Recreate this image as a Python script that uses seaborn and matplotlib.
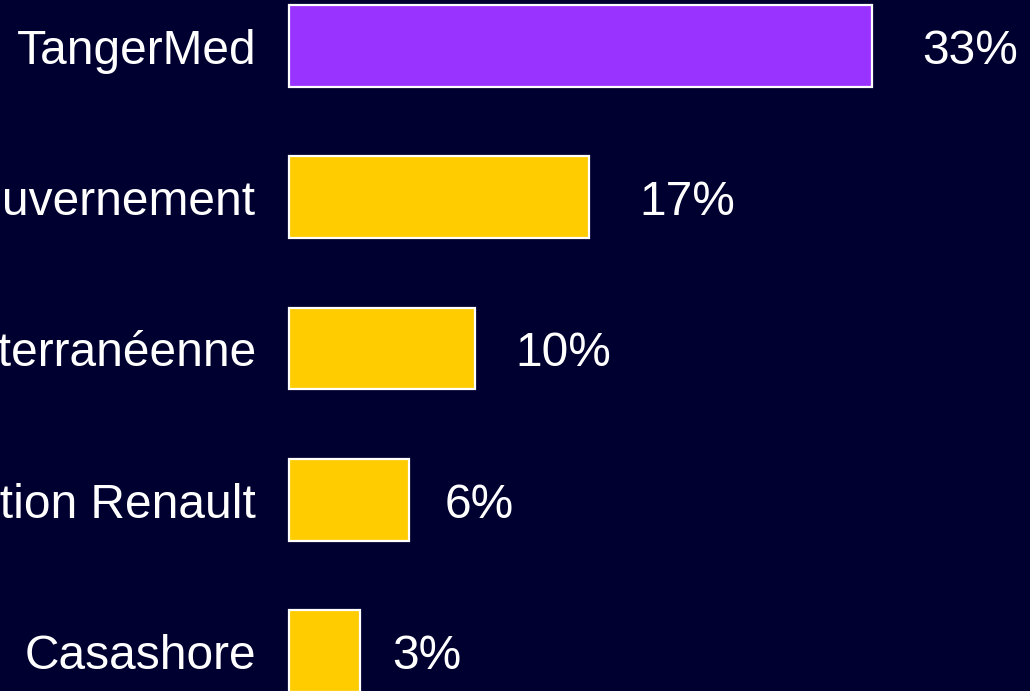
import matplotlib
matplotlib.use("Agg")
import matplotlib.pyplot as plt
import seaborn as sns
import pandas as pd

# Data
categories = ["TangerMed", "Gouvernement", "Méditerranéenne", "Fondation Renault", "Casashore"]
values = [33.0, 17.0, 10.5, 6.8, 4.0]          # bar lengths as drawn
label_values = [33, 17, 10, 6, 3]               # percentages as labelled
colors = ["#9933FF", "#FFCC00", "#FFCC00", "#FFCC00", "#FFCC00"]

BG = "#000030"

sns.set_theme(style="white")
plt.rcParams["font.family"] = ["Liberation Sans", "DejaVu Sans"]

fig = plt.figure(figsize=(10.30, 6.91), dpi=100)
fig.patch.set_facecolor(BG)
ax = fig.add_axes([0, 0, 1, 1])
ax.set_facecolor(BG)

df = pd.DataFrame({"cat": categories, "val": values})
sns.barplot(data=df, x="val", y="cat", hue="cat", palette=colors, legend=False,
            orient="h", width=0.54, edgecolor="white", linewidth=1.6,
            saturation=1, ax=ax)

px_per_unit = 17.67
zero_px = 289
ax.set_xlim(-zero_px / px_per_unit, (1030 - zero_px) / px_per_unit)
ax.set_ylim((691 - 46) / 151.25, -46 / 151.25)

dy = 0.035
for i, (cat, lv) in enumerate(zip(categories, label_values)):
    ax.text(-33 / px_per_unit, i + dy, cat, ha="right", va="center", color="white",
            fontsize=34.5, clip_on=False)
    ax.text(lv + 50 / px_per_unit, i + dy, f"{lv}%", ha="left", va="center",
            color="white", fontsize=34.5, clip_on=False)

ax.set_axis_off()
fig.savefig("out.png", dpi=100, facecolor=BG)
